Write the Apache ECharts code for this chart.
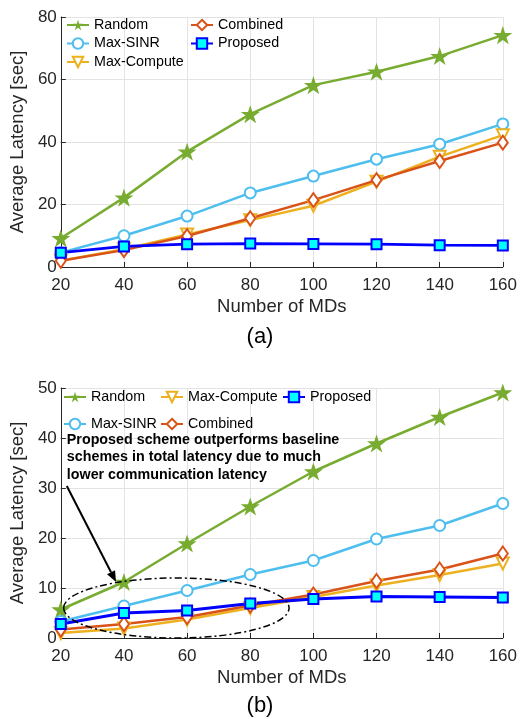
<!DOCTYPE html>
<html><head><meta charset="utf-8">
<script src="https://cdn.jsdelivr.net/npm/echarts@6/dist/echarts.min.js"></script>
<style>html,body{margin:0;padding:0;background:#fff}#c{width:520px;height:719px}</style>
</head><body><div id="c"></div>
<script>
const mds = [20, 40, 60, 80, 100, 120, 140, 160];
const xTicks = [20, 40, 60, 80, 100, 120, 140, 160];
const yTicksA = [0, 20, 40, 60, 80];
const yTicksB = [0, 10, 20, 30, 40, 50];
// (a)
const randomA = [9.2, 22.2, 36.9, 48.9, 58.2, 62.5, 67.5, 74.2];
const maxSinrA = [4.6, 10.0, 16.3, 23.7, 29.1, 34.5, 39.3, 45.8];
const maxComputeA = [2.0, 5.7, 10.4, 15.0, 19.6, 27.3, 35.3, 42.2];
const combinedA = [2.0, 5.4, 9.9, 15.6, 21.4, 27.8, 33.9, 39.8];
const proposedA = [4.6, 6.6, 7.3, 7.5, 7.4, 7.3, 7.0, 6.9];
// (b)
const randomB = [5.7, 11.2, 18.9, 26.3, 33.3, 38.9, 44.2, 49.1];
const maxSinrB = [3.3, 6.4, 9.5, 12.7, 15.5, 19.8, 22.5, 26.9];
const maxComputeB = [1.0, 1.9, 3.7, 6.0, 8.2, 10.5, 12.6, 14.9];
const combinedB = [1.7, 2.8, 4.2, 6.5, 8.7, 11.4, 13.7, 16.9];
const proposedB = [2.8, 5.0, 5.5, 6.9, 7.8, 8.3, 8.2, 8.1];

const annotationLines = ['Proposed scheme outperforms baseline', 'schemes in total latency due to much', 'lower communication latency'];
// annotation anchors in data coordinates of panel (b)
const noteTextAt = [21.9, 41.4];
const arrowFrom = [21.9, 30.4];
const arrowTo = [37.5, 11.2];
const ellipseCenter = [56.6, 6.0];
const ellipseRadius = [35.7, 6.0];

const FONT = '"Liberation Sans", Arial, Helvetica, sans-serif';
const AX = '#262626';
const STAR = 'path://M50 0 L61.23 34.55 L97.55 34.55 L68.16 55.9 L79.39 90.45 L50 69.1 L20.61 90.45 L31.84 55.9 L2.45 34.55 L38.77 34.55 Z';

const styles = {
  'Random': {color: '#77AC30', symbol: STAR, size: 19, fill: '#77AC30', bw: 0, lw: 2.5},
  'Max-SINR': {color: '#4DBEEE', symbol: 'circle', size: 11, fill: '#fff', bw: 2, lw: 2.5},
  'Max-Compute': {color: '#EDB120', symbol: 'triangle', rotate: 180, size: 12, fill: '#fff', bw: 2, lw: 2.5},
  'Combined': {color: '#D95319', symbol: 'diamond', size: [10, 14], fill: '#fff', bw: 2, lw: 2.5},
  'Proposed': {color: '#0000FF', symbol: 'rect', size: 10, fill: '#00FFFF', bw: 2, lw: 2.8}
};

function mk(name, data, gi) {
  const s = styles[name];
  return {
    name, type: 'line', xAxisIndex: gi, yAxisIndex: gi,
    data: mds.map((x, i) => [x, data[i]]),
    symbol: s.symbol, symbolSize: s.size, symbolRotate: s.rotate || 0, symbolKeepAspect: true,
    showAllSymbol: true,
    lineStyle: {color: s.color, width: s.lw},
    itemStyle: {color: s.fill, borderColor: s.color, borderWidth: s.bw, opacity: 1},
    emphasis: {disabled: true}
  };
}

function xAx(gi) {
  return {
    type: 'value', gridIndex: gi, min: 20, max: 160, interval: 20,
    name: 'Number of MDs', nameLocation: 'middle', nameGap: 30,
    nameTextStyle: {fontSize: 18.5, color: AX, fontFamily: FONT},
    axisLine: {show: true, lineStyle: {color: AX, width: 1}},
    axisTick: {show: true, inside: true, length: 5, lineStyle: {color: AX}},
    axisLabel: {fontSize: 17, color: AX, fontFamily: FONT, margin: 10,
      formatter: v => xTicks.includes(v) ? String(v) : ''},
    splitLine: {show: true, lineStyle: {color: '#e3e3e3', width: 1}}
  };
}
function yAx(gi, max, interval, ticks) {
  return {
    type: 'value', gridIndex: gi, min: 0, max, interval,
    name: 'Average Latency [sec]', nameLocation: 'middle', nameGap: 21,
    nameTextStyle: {fontSize: 18.5, color: AX, fontFamily: FONT},
    axisLine: {show: true, lineStyle: {color: AX, width: 1}},
    axisTick: {show: true, inside: true, length: 5, lineStyle: {color: AX}},
    axisLabel: {fontSize: 17, color: AX, fontFamily: FONT, margin: 4,
      formatter: v => ticks.includes(v) ? String(v) : ''},
    splitLine: {show: true, lineStyle: {color: '#e3e3e3', width: 1}}
  };
}

function lg(left, top, data, gap) {
  return {
    left, top, orient: 'vertical', padding: 0, itemWidth: 22, itemHeight: 13,
    itemGap: gap, itemTextGap: 2, selectedMode: false, data,
    textStyle: {fontSize: 14.3, color: '#000', fontFamily: FONT}
  };
}

const chart = echarts.init(document.getElementById('c'), null, {renderer: 'canvas'});
chart.setOption({
  animation: false,
  backgroundColor: '#fff',
  grid: [
    {left: 57, top: 17, width: 447, height: 250},
    {left: 57, top: 388, width: 447, height: 250}
  ],
  xAxis: [xAx(0), xAx(1)],
  yAxis: [yAx(0, 80, 20, yTicksA), yAx(1, 50, 10, yTicksB)],
  legend: [
    lg(66, 18, ['Random', 'Max-SINR', 'Max-Compute'], 4.5),
    lg(190, 18, ['Combined', 'Proposed'], 4.5),
    lg(63, 390, ['Random', 'Max-SINR'], 13),
    lg(160, 390, ['Max-Compute', 'Combined'], 13),
    lg(282, 390, ['Proposed'], 13)
  ],
  series: [
    mk('Random', randomA, 0), mk('Max-SINR', maxSinrA, 0), mk('Max-Compute', maxComputeA, 0),
    mk('Combined', combinedA, 0), mk('Proposed', proposedA, 0),
    mk('Random', randomB, 1), mk('Max-SINR', maxSinrB, 1), mk('Max-Compute', maxComputeB, 1),
    mk('Combined', combinedB, 1), mk('Proposed', proposedB, 1)
  ]
});

const P = p => chart.convertToPixel({gridIndex: 1}, p);
const t = P(noteTextAt), a0 = P(arrowFrom), a1 = P(arrowTo), ec = P(ellipseCenter);
const er = P([ellipseCenter[0] + ellipseRadius[0], ellipseCenter[1] + ellipseRadius[1]]);
const rx = er[0] - ec[0], ry = ec[1] - er[1];
const ang = Math.atan2(a1[1] - a0[1], a1[0] - a0[0]);
const hl = 11, hw = 4.5;
const base = [a1[0] - hl * Math.cos(ang), a1[1] - hl * Math.sin(ang)];
const head = [a1,
  [base[0] + hw * Math.sin(ang), base[1] - hw * Math.cos(ang)],
  [base[0] - hw * Math.sin(ang), base[1] + hw * Math.cos(ang)]];

chart.setOption({
  graphic: [
    {type: 'text', left: 'center', top: 326, style: {text: '(a)', fontSize: 22, fill: '#000', fontFamily: FONT}},
    {type: 'text', left: 'center', top: 695, style: {text: '(b)', fontSize: 22, fill: '#000', fontFamily: FONT}},
    {type: 'text', x: t[0], y: t[1], z: 100, style: {text: annotationLines.join('\n'), fontSize: 14.3, fontWeight: 'bold',
      lineHeight: 17.5, fill: '#000', fontFamily: FONT}},
    {type: 'line', z: 100, shape: {x1: a0[0], y1: a0[1], x2: base[0], y2: base[1]}, style: {stroke: '#000', lineWidth: 2}},
    {type: 'polygon', z: 100, shape: {points: head}, style: {fill: '#000'}},
    {type: 'ellipse', z: 100, shape: {cx: ec[0], cy: ec[1], rx, ry},
      style: {fill: null, stroke: '#000', lineWidth: 1.5, lineDash: [7, 3, 2, 3]}}
  ]
});
</script></body></html>
